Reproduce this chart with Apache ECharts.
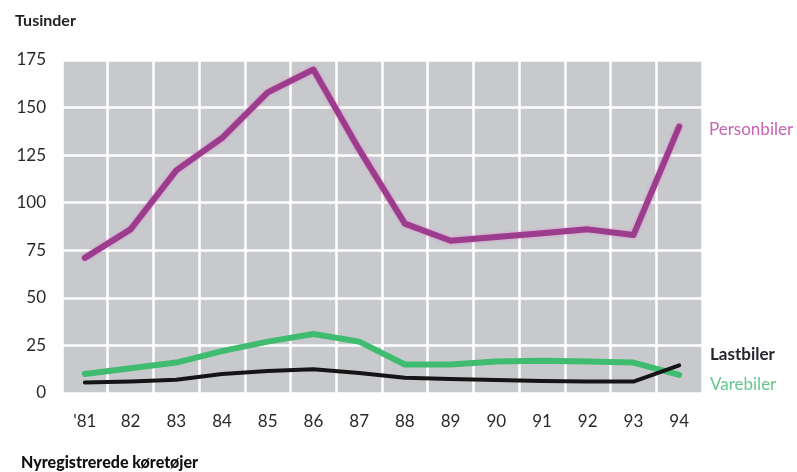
<!DOCTYPE html>
<html>
<head>
<meta charset="utf-8">
<script src="https://cdn.jsdelivr.net/npm/echarts@6/dist/echarts.min.js"></script>
<style>
  html, body { margin: 0; padding: 0; background: #fff; }
  #chart { width: 797px; height: 472px; }
</style>
</head>
<body>
<div id="chart"></div>
<script>
// Nyregistrerede køretøjer, tusinder
const years = ["'81", "82", "83", "84", "85", "86", "87", "88", "89", "90", "91", "92", "93", "94"];
const personbiler = [71, 86, 117, 134, 158, 170, 128, 89, 80, 82, 84, 86, 83, 140];
const varebiler = [10, 13, 16, 22, 27, 31, 27, 15, 15, 16.5, 17, 16.5, 16, 9.5];
const lastbiler = [5.5, 6, 7, 10, 11.5, 12.5, 10.5, 8, 7.3, 6.8, 6.3, 6, 6, 14.5];
const yTicks = [0, 25, 50, 75, 100, 125, 150, 175];

const FONT = 'Lato, "Open Sans", sans-serif';

const chart = echarts.init(document.getElementById('chart'), null, { renderer: 'canvas' });

const option = {
  animation: false,
  backgroundColor: '#ffffff',
  title: [
    {
      text: 'Tusinder',
      left: 10, top: 8,
      textStyle: { fontFamily: FONT, fontSize: 16, fontWeight: 'bold', color: '#222' }
    },
    {
      text: 'Nyregistrerede køretøjer',
      left: 16, top: 450,
      textStyle: { fontFamily: FONT, fontSize: 16, fontWeight: 900, color: '#111' }
    }
  ],
  grid: {
    left: 62, right: 95, top: 60, bottom: 79,
    show: true,
    backgroundColor: '#c8c9cd',
    borderWidth: 0
  },
  xAxis: {
    type: 'category',
    data: years,
    boundaryGap: true,
    axisLine: { show: false },
    axisTick: { show: false },
    axisLabel: { margin: 20, fontFamily: FONT, fontSize: 17, color: '#2a2a2a' },
    splitLine: { show: true, interval: 0, lineStyle: { color: '#ffffff', width: 2.5 } }
  },
  yAxis: {
    type: 'value',
    min: yTicks[0],
    max: yTicks[yTicks.length - 1],
    interval: 25,
    axisLine: { show: false },
    axisTick: { show: false },
    axisLabel: { margin: 16, fontFamily: FONT, fontSize: 17, color: '#2a2a2a' },
    splitLine: { show: true, lineStyle: { color: '#ffffff', width: 2.5 } }
  },
  series: [
    {
      name: 'Varebiler',
      type: 'line',
      data: varebiler,
      symbol: 'none',
      lineStyle: { color: '#3fbc6f', width: 6, join: 'round', cap: 'round' },
      z: 3
    },
    {
      name: 'Lastbiler',
      type: 'line',
      data: lastbiler,
      symbol: 'none',
      lineStyle: { color: '#151515', width: 4, join: 'round', cap: 'round' },
      z: 4
    },
    {
      name: 'Personbiler',
      type: 'line',
      data: personbiler,
      symbol: 'none',
      lineStyle: {
        color: '#9b3d8c', width: 6, join: 'round', cap: 'round',
        shadowColor: 'rgba(225,130,210,0.9)', shadowBlur: 3
      },
      z: 5
    }
  ],
  graphic: [
    {
      type: 'text', left: 709, top: 121,
      style: { text: 'Personbiler', fill: '#c564b3', font: '17px ' + FONT }
    },
    {
      type: 'text', left: 710, top: 346,
      style: { text: 'Lastbiler', fill: '#252530', font: 'bold 17px ' + FONT }
    },
    {
      type: 'text', left: 710, top: 376,
      style: { text: 'Varebiler', fill: '#66c78e', font: '17px ' + FONT }
    }
  ]
};

chart.setOption(option);
</script>
</body>
</html>
